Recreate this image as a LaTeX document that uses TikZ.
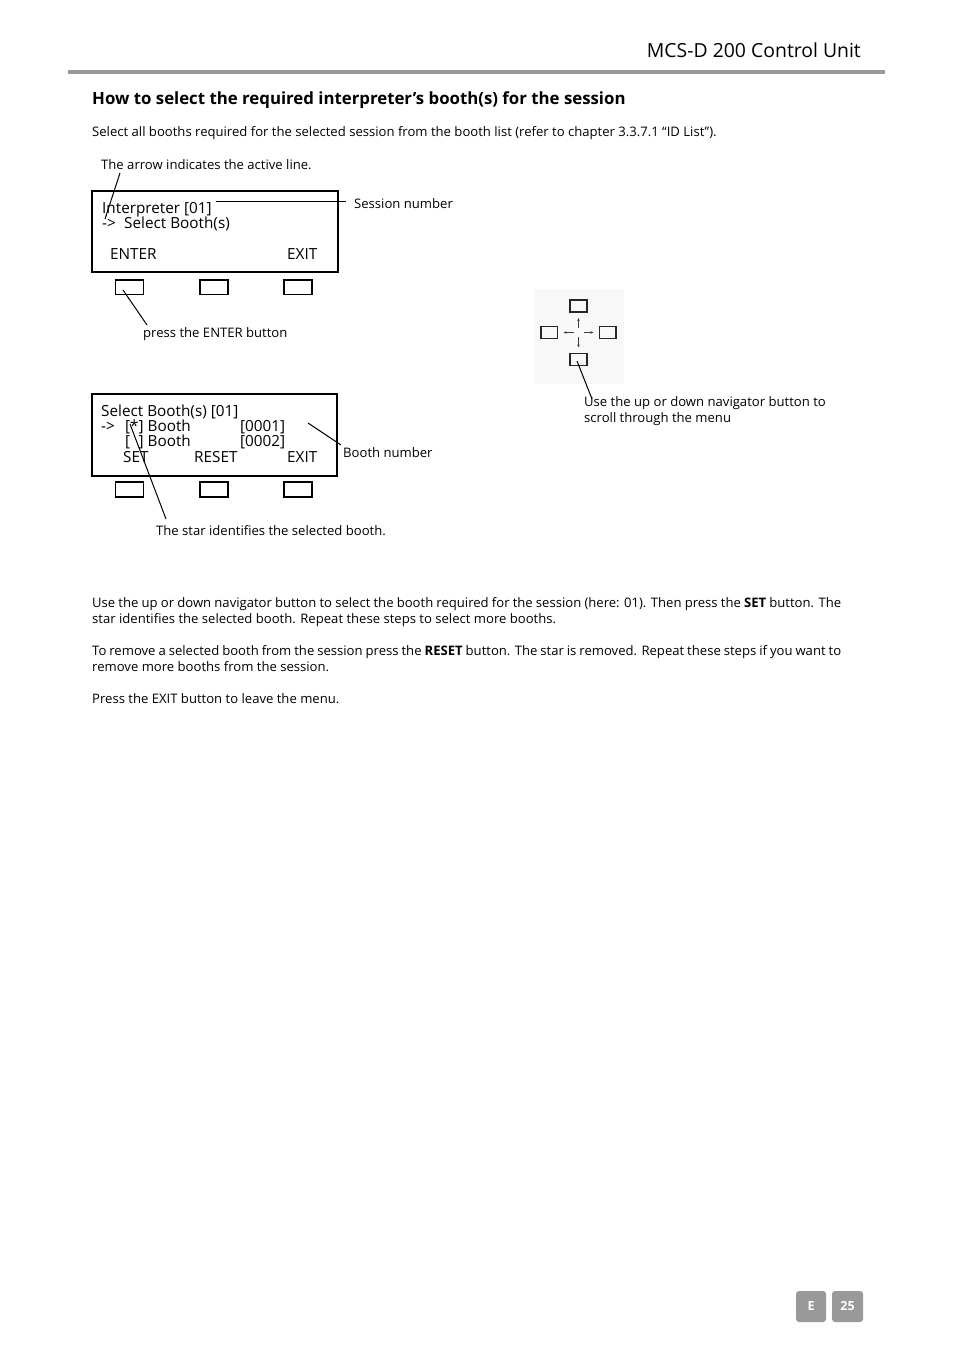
\documentclass[tikz,border=0pt]{standalone}
\usepackage{fontspec}
\setmainfont{Open Sans}
\usetikzlibrary{arrows.meta}
\definecolor{rulegray}{HTML}{9A9A9A}
\definecolor{boxgray}{HTML}{999999}
\definecolor{navbg}{HTML}{F8F8F8}
\tikzset{
  body/.style={font=\fontsize{13.1}{15}\selectfont, anchor=base west, inner sep=0pt},
  lcd/.style={font=\fontsize{15.3}{18}\selectfont, anchor=base west, inner sep=0pt},
  lcdbox/.style={draw, line width=1.8pt},
  keybtn/.style={draw, line width=1.6pt},
  navbtn/.style={draw, line width=1.8pt, draw=black!85},
  leader/.style={line width=1pt},
  navarrow/.style={line width=0.6pt, draw=black!75, -{Stealth[length=3pt,width=2.6pt]}},
  tab/.style={fill=boxgray, rounded corners=3pt, text=white, font=\fontsize{12.5}{14}\selectfont\bfseries, inner sep=0pt}
}
\begin{document}
\begin{tikzpicture}[x=1pt,y=-1pt]
\useasboundingbox (0,0) rectangle (954,1351);
% header
\node[font=\fontsize{19.4}{24}\selectfont, anchor=base east, inner sep=0pt] (hdr) at (861,58) {MCS-D 200 Control Unit};
\draw[rulegray, line width=3.5pt] (68,72) coordinate (rl) -- (885,72) coordinate (rr);
% title
\node[font=\fontsize{16.8}{19}\selectfont\bfseries, anchor=base west, inner sep=0pt] (title) at (92,104.5) {How to select the required interpreter’s booth(s) for the session};
\node[body] (intro) at (92,137) {Select all booths required for the selected session from the booth list (refer to chapter 3.3.7.1 “ID List”).};
% first display
\node[body] (arrowlbl) at (101,169.5) {The arrow indicates the active line.};
\draw[lcdbox] (92,191) rectangle (338,272);
\node[lcd] (l1) at (102,214) {Interpreter [01]};
\node[lcd] (l2a) at (102,229) {->};
\node[lcd] (l2b) at (124,229) {Select Booth(s)};
\node[lcd] (enter) at (110,259.5) {ENTER};
\node[lcd] (exit1) at (287,259.5) {EXIT};
\node[body] (sess) at (354,208.5) {Session number};
\coordinate (sessA) at (216,202);
\coordinate (sessB) at (346,202);
\draw[leader] (sessA) -- (sessB);
\coordinate (arrA) at (120,173);
\coordinate (arrB) at (105,219);
\draw[leader] (arrA) -- (arrB);
\draw[keybtn] (115.5,280) rectangle (143.5,294.5);
\draw[keybtn] (200,280) rectangle (228,294.5);
\draw[keybtn] (284,280) rectangle (312,294.5);
\node[body] (presslbl) at (143,337) {press the ENTER button};
\coordinate (entA) at (123,290);
\coordinate (entB) at (147,325);
\draw[leader] (entA) -- (entB);
% second display
\draw[lcdbox] (92,394) rectangle (337,476);
\node[lcd] (m1) at (101,416) {Select Booth(s) [01]};
\node[lcd] (m2a) at (101,431) {->};
\node[lcd] (m2b) at (125,431) {[*] Booth};
\node[lcd] (m2c) at (240,431) {[0001]};
\node[lcd] (m3b) at (125,446) {[\hphantom{*}] Booth};
\node[lcd] (m3c) at (240,446) {[0002]};
\node[lcd] (set) at (123,462) {SET};
\node[lcd] (reset) at (194,462) {RESET};
\node[lcd] (exit2) at (287,462) {EXIT};
\draw[keybtn] (115.5,482) rectangle (143.5,497);
\draw[keybtn] (200,482) rectangle (228,497);
\draw[keybtn] (284,482) rectangle (312,497);
\node[body] (boothlbl) at (343,457) {Booth number};
\coordinate (bnA) at (308,423);
\coordinate (bnB) at (341,445);
\draw[leader] (bnA) -- (bnB);
\node[body] (starlbl) at (156,535) {The star identifies the selected booth.};
\coordinate (stA) at (130,424);
\coordinate (stB) at (166,519);
\draw[leader] (stA) -- (stB);
% navigator
\fill[navbg] (534,289) rectangle (624,384);
\draw[navbtn] (570,300) rectangle (587,312);
\draw[navbtn] (541,326.5) rectangle (557.5,338.5);
\draw[navbtn] (599.5,326.5) rectangle (616,338.5);
\draw[navbtn] (570,353.5) rectangle (587,365.5);
\draw[navarrow] (578.5,328) -- (578.5,318);
\draw[navarrow] (578.5,337) -- (578.5,347.5);
\draw[navarrow] (573.5,332.5) -- (563.5,332.5);
\draw[navarrow] (583.5,332.5) -- (593.5,332.5);
\coordinate (navA) at (577,361);
\coordinate (navB) at (592,399);
\draw[leader] (navA) -- (navB);
\node[body] (nav1) at (584,406) {Use the up or down navigator button to};
\node[body] (nav2) at (584,422) {scroll through the menu};
% paragraphs
\node[body] (p1) at (92,607) {\makebox[749pt][s]{Use the up or down navigator button to select the booth required for the session (here: 01). Then press the \textbf{SET} button. The}};
\node[body] (p2) at (92,623) {star identifies the selected booth. Repeat these steps to select more booths.};
\node[body] (p3) at (92,655) {\makebox[749pt][s]{To remove a selected booth from the session press the \textbf{RESET} button. The star is removed. Repeat these steps if you want to}};
\node[body] (p4) at (92,671) {remove more booths from the session.};
\node[body] (p5) at (92,703) {Press the EXIT button to leave the menu.};
% footer tabs
\node[tab, minimum width=30pt, minimum height=31pt] (tabE) at (811,1306.5) {E};
\node[tab, minimum width=31pt, minimum height=31pt] (tab25) at (847.5,1306.5) {25};
\end{tikzpicture}
\end{document}
